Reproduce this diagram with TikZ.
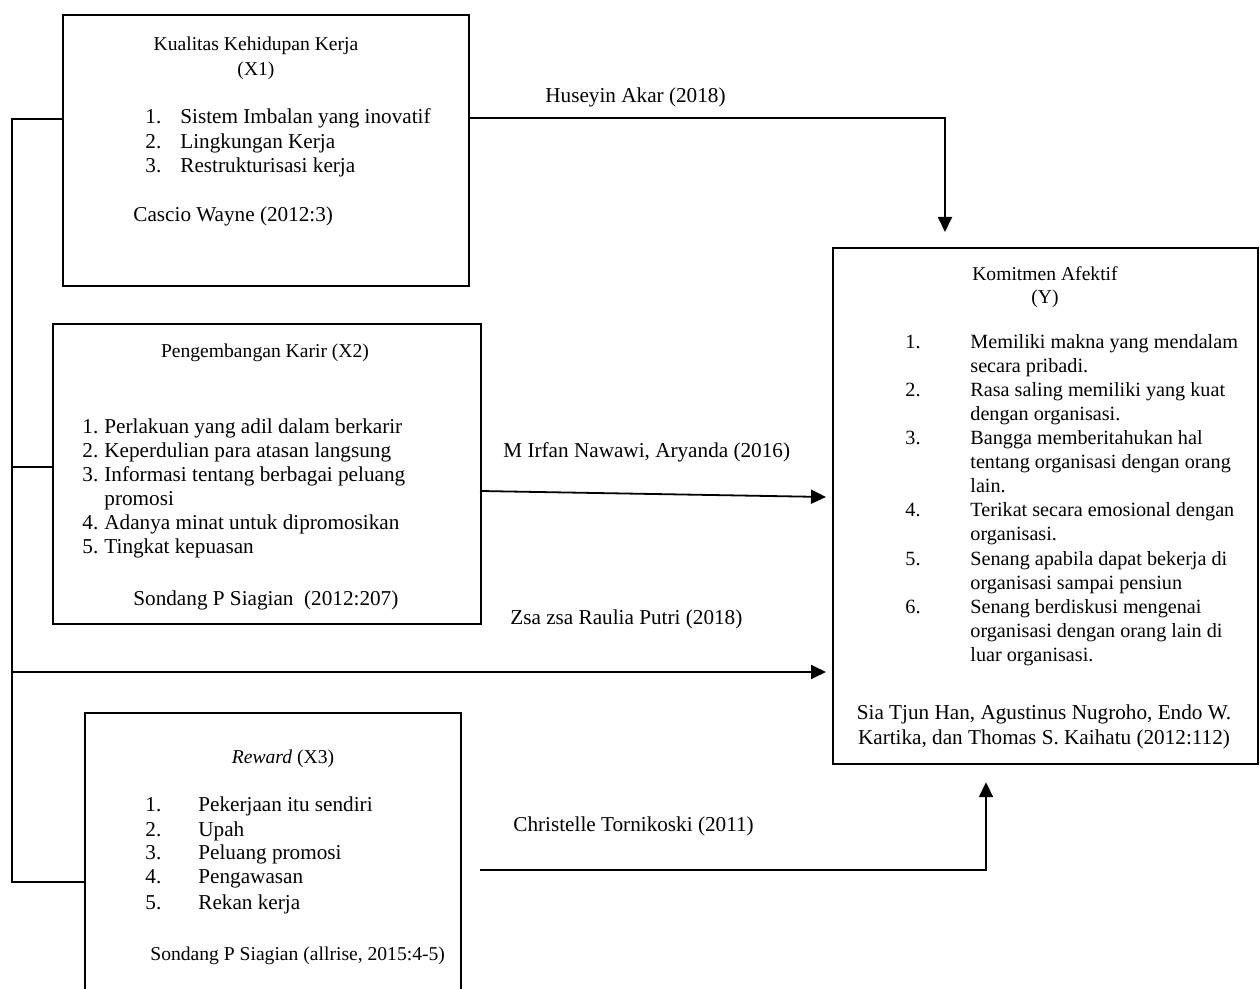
\documentclass[tikz,border=0pt]{standalone}
\usepackage{fontspec}
\setmainfont{Liberation Serif}
\usetikzlibrary{arrows.meta}
\begin{document}
\begin{tikzpicture}[x=0.5pt,y=-0.5pt,
 every node/.style={font=\fontsize{10.6}{12}\selectfont, inner sep=0pt},
 ttl/.style={anchor=base, font=\fontsize{9.8}{12}\selectfont},
 yitem/.style={anchor=base west, font=\fontsize{10.1}{12}\selectfont},
 box/.style={draw, line width=1.1pt, anchor=north west},
 txt/.style={anchor=base west},
 ctxt/.style={anchor=base},
 conn/.style={line width=0.9pt},
 arr/.style={conn, -{Triangle[length=7.5pt,width=7pt]}}]
\useasboundingbox (0,0) rectangle (1260,989);
% boxes
\node[box, minimum width=203pt, minimum height=135.5pt] (b1) at (62,14) {};
\node[box, minimum width=214pt, minimum height=150pt] (b2) at (52,323) {};
\node[box, minimum width=188pt, minimum height=150pt] (b3) at (84,712) {};
\node[box, minimum width=212.5pt, minimum height=258pt] (by) at (832,247) {};
% box 1 text
\node[ttl] (b1t1) at (256,51) {Kualitas Kehidupan Kerja};
\node[ttl] (b1t2) at (256,76) {(X1)};
\node[txt] (b1n1) at (145,124) {1.};
\node[txt] (b1i1) at (180,124) {Sistem Imbalan yang inovatif};
\node[txt] (b1n2) at (145,149) {2.};
\node[txt] (b1i2) at (180,149) {Lingkungan Kerja};
\node[txt] (b1n3) at (145,173) {3.};
\node[txt] (b1i3) at (180,173) {Restrukturisasi kerja};
\node[txt] (b1s) at (133,222) {Cascio Wayne (2012:3)};
% box 2 text
\node[ttl] (b2t) at (265,358) {Pengembangan Karir (X2)};
\node[txt] (b2n1) at (82,434) {1.};
\node[txt] (b2i1) at (104,434) {Perlakuan yang adil dalam berkarir};
\node[txt] (b2n2) at (82,458) {2.};
\node[txt] (b2i2) at (104,458) {Keperdulian para atasan langsung};
\node[txt] (b2n3) at (82,482) {3.};
\node[txt] (b2i3) at (104,482) {Informasi tentang berbagai peluang};
\node[txt] (b2i3b) at (104,506) {promosi};
\node[txt] (b2n4) at (82,530) {4.};
\node[txt] (b2i4) at (104,530) {Adanya minat untuk dipromosikan};
\node[txt] (b2n5) at (82,554) {5.};
\node[txt] (b2i5) at (104,554) {Tingkat kepuasan};
\node[txt] (b2s) at (133,606) {Sondang P Siagian\ \ (2012:207)};
% box 3 text
\node[ttl] (b3t) at (283,763) {\textit{Reward} (X3)};
\node[txt] (b3n1) at (145,812) {1.};
\node[txt] (b3i1) at (198,812) {Pekerjaan itu sendiri};
\node[txt] (b3n2) at (145,836) {2.};
\node[txt] (b3i2) at (198,836) {Upah};
\node[txt] (b3n3) at (145,860) {3.};
\node[txt] (b3i3) at (198,860) {Peluang promosi};
\node[txt] (b3n4) at (145,884) {4.};
\node[txt] (b3i4) at (198,884) {Pengawasan};
\node[txt] (b3n5) at (145,909) {5.};
\node[txt] (b3i5) at (198,909) {Rekan kerja};
\node[txt, font=\fontsize{9.8}{12}\selectfont] (b3s) at (150,960) {Sondang P Siagian (allrise, 2015:4-5)};
% box Y text
\node[ttl] (byt1) at (1045,281) {Komitmen Afektif};
\node[ttl] (byt2) at (1045,304) {(Y)};
\node[yitem] (byn1) at (905,349) {1.};
\node[yitem] (byi1) at (970,349) {Memiliki makna yang mendalam};
\node[yitem] (byi1b) at (970,373) {secara pribadi.};
\node[yitem] (byn2) at (905,397) {2.};
\node[yitem] (byi2) at (970,397) {Rasa saling memiliki yang kuat};
\node[yitem] (byi2b) at (970,421) {dengan organisasi.};
\node[yitem] (byn3) at (905,445) {3.};
\node[yitem] (byi3) at (970,445) {Bangga memberitahukan hal};
\node[yitem] (byi3b) at (970,469) {tentang organisasi dengan orang};
\node[yitem] (byi3c) at (970,493) {lain.};
\node[yitem] (byn4) at (905,517) {4.};
\node[yitem] (byi4) at (970,517) {Terikat secara emosional dengan};
\node[yitem] (byi4b) at (970,541) {organisasi.};
\node[yitem] (byn5) at (905,566) {5.};
\node[yitem] (byi5) at (970,566) {Senang apabila dapat bekerja di};
\node[yitem] (byi5b) at (970,590) {organisasi sampai pensiun};
\node[yitem] (byn6) at (905,614) {6.};
\node[yitem] (byi6) at (970,614) {Senang berdiskusi mengenai};
\node[yitem] (byi6b) at (970,638) {organisasi dengan orang lain di};
\node[yitem] (byi6c) at (970,662) {luar organisasi.};
\node[ctxt] (bys1) at (1044,720) {Sia Tjun Han, Agustinus Nugroho, Endo W.};
\node[ctxt] (bys2) at (1044,745) {Kartika, dan Thomas S. Kaihatu (2012:112)};
% connector labels
\node[txt] (l1) at (545,103) {Huseyin Akar (2018)};
\node[txt] (l2) at (503,458) {M Irfan Nawawi, Aryanda (2016)};
\node[txt] (l3) at (510,625) {Zsa zsa Raulia Putri (2018)};
\node[txt] (l4) at (513,832) {Christelle Tornikoski (2011)};
% coordinates
\coordinate (c1) at (945,118);
\coordinate (c2s) at (480,491);
\coordinate (c2e) at (826,497);
\coordinate (t) at (12,119);
\coordinate (j2) at (12,467);
\coordinate (j3) at (12,672);
\coordinate (j4) at (12,882);
\coordinate (c4) at (480,870);
\coordinate (c5) at (986,870);
% connectors
\draw[arr, shorten >=7.5pt] (b1.east |- c1) -- (c1) -- (c1 |- by.north);
\draw[arr] (c2s) -- (c2e);
\draw[conn] (b1.west |- t) -- (t) -- (j4) -- (b3.west |- j4);
\draw[conn] (j2) -- (b2.west |- j2);
\draw[arr, shorten >=3pt] (j3) -- (by.west |- j3);
\draw[arr, shorten >=8.5pt] (c4) -- (c5) -- (c5 |- by.south);
\end{tikzpicture}
\end{document}
